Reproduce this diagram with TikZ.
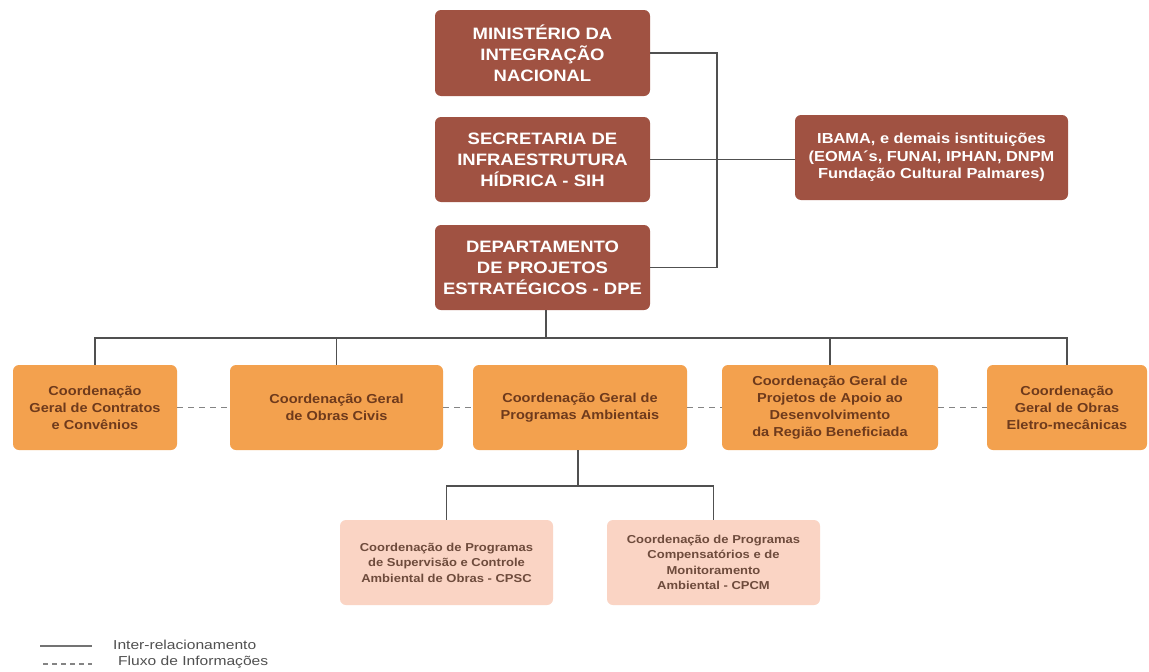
\documentclass[tikz,border=0pt]{standalone}
\usepackage{fontspec}
\setmainfont{Liberation Sans}
\definecolor{brownbox}{RGB}{160,82,66}
\definecolor{orangebox}{RGB}{243,161,78}
\definecolor{pinkbox}{RGB}{250,212,196}
\definecolor{orangetxt}{RGB}{110,58,28}
\definecolor{pinktxt}{RGB}{110,75,60}
\definecolor{linegray}{RGB}{80,80,80}
\definecolor{legtxt}{RGB}{80,80,80}
\newcommand{\wide}[1]{\addfontfeatures{FakeStretch=#1}}
\tikzset{
  topbox/.style={fill=brownbox, rounded corners=6pt, text=white, align=center,
    font=\fontsize{16.5}{21}\selectfont\bfseries\wide{1.12}, inner sep=0pt},
  coordbox/.style={fill=orangebox, rounded corners=6pt, text=orangetxt, align=center,
    font=\fontsize{13}{17}\selectfont\bfseries\wide{1.12}, inner sep=0pt, minimum height=85pt},
  subbox/.style={fill=pinkbox, rounded corners=6pt, text=pinktxt, align=center,
    font=\fontsize{11.5}{15.5}\selectfont\bfseries\wide{1.13}, inner sep=0pt, minimum width=213pt, minimum height=85pt},
  link/.style={draw=linegray, line width=1.4pt},
  flow/.style={draw=linegray!70, line width=1.2pt, dash pattern=on 6pt off 5pt},
  legtext/.style={text=legtxt, font=\fontsize{13}{14}\selectfont\wide{1.2}, anchor=west, inner sep=0pt}
}
\begin{document}
\begin{tikzpicture}[x=1pt,y=-1pt]
\useasboundingbox[fill=white] (0,0) rectangle (1149,672);
% top boxes
\node[topbox, minimum width=215pt, minimum height=86pt] (min) at (542.5,53) {MINISTÉRIO DA\\INTEGRAÇÃO\\NACIONAL};
\node[topbox, minimum width=215pt, minimum height=85pt] (sec) at (542.5,159.5) {SECRETARIA DE\\INFRAESTRUTURA\\HÍDRICA - SIH};
\node[topbox, minimum width=215pt, minimum height=85pt] (dpe) at (542.5,267.5) {DEPARTAMENTO\\DE PROJETOS\\ESTRATÉGICOS - DPE};
\node[topbox, minimum width=273pt, minimum height=85pt, font=\fontsize{14.5}{17.5}\selectfont\bfseries\wide{1.13}] (ibama) at (931.5,157.5) {IBAMA, e demais isntituições\\(EOMA´s, FUNAI, IPHAN, DNPM\\Fundação Cultural Palmares)};
% coordination boxes
\node[coordbox, minimum width=164pt] (c1) at (95,407.5) {Coordenação\\Geral de Contratos\\e Convênios};
\node[coordbox, minimum width=213pt] (c2) at (336.5,407.5) {Coordenação Geral\\de Obras Civis};
\node[coordbox, minimum width=214pt] (c3) at (580,407.5) {Coordenação Geral de\\Programas Ambientais};
\node[coordbox, minimum width=216pt] (c4) at (830,407.5) {Coordenação Geral de\\Projetos de Apoio ao\\Desenvolvimento\\da Região Beneficiada};
\node[coordbox, minimum width=160pt] (c5) at (1067,407.5) {Coordenação\\Geral de Obras\\Eletro-mecânicas};
% sub boxes
\node[subbox] (p1) at (446.5,562.5) {Coordenação de Programas\\de Supervisão e Controle\\Ambiental de Obras - CPSC};
\node[subbox] (p2) at (713.5,562.5) {Coordenação de Programas\\Compensatórios e de\\Monitoramento\\Ambiental - CPCM};
% top connectors
\coordinate (vt) at (717,53);
\coordinate (vb) at (717,267.5);
\draw[link] (min.east) -- (vt) -- (vb) -- (dpe.east);
\draw[link] (sec.east) -- (sec.east -| ibama.west);
% bus
\coordinate (bus) at (546,338);
\draw[link] (dpe.south -| bus) -- (bus);
\draw[link] (c1.north) |- (bus) -| (c5.north);
\draw[link] (c2.north) -- (c2.north |- bus);
\draw[link] (c4.north) -- (c4.north |- bus);
% information flow
\draw[flow] (c1.east) -- (c2.west);
\draw[flow] (c2.east) -- (c3.west);
\draw[flow] (c3.east) -- (c4.west);
\draw[flow] (c4.east) -- (c5.west);
% sub connectors
\coordinate (sub) at (578,486);
\draw[link] (c3.south -| sub) -- (sub);
\draw[link] (p1.north) |- (sub) -| (p2.north);
% legend
\coordinate (l1a) at (40,646);
\coordinate (l1b) at (92,646);
\coordinate (l2a) at (43,664);
\coordinate (l2b) at (92,664);
\draw[link, draw=linegray!80] (l1a) -- (l1b);
\draw[flow, dash pattern=on 5pt off 4pt] (l2a) -- (l2b);
\node[legtext] (leg1) at (113,645) {Inter-relacionamento};
\node[legtext] (leg2) at (118,662) {Fluxo de Informações};
\end{tikzpicture}
\end{document}
